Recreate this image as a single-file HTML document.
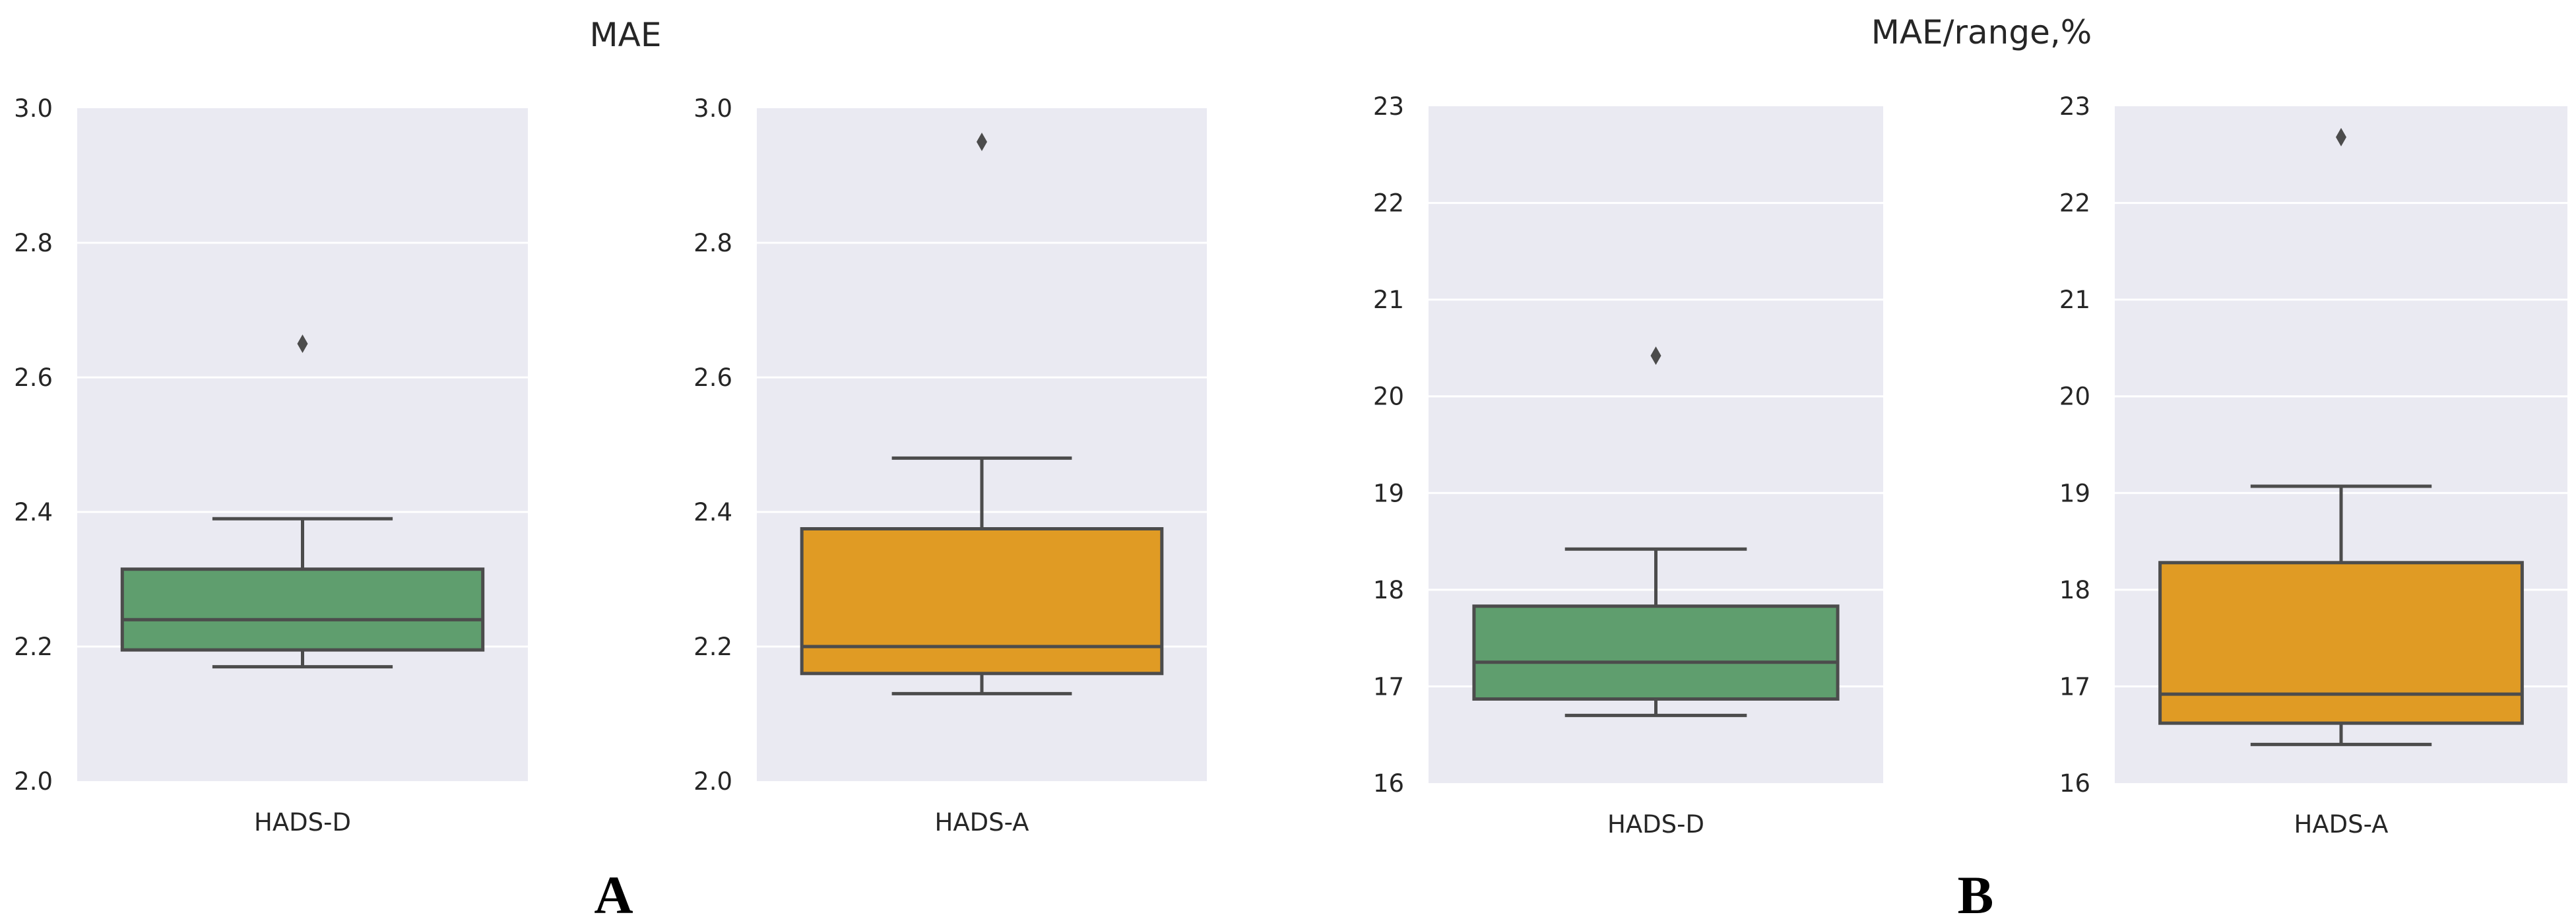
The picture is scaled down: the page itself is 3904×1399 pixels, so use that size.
<!DOCTYPE html>
<html><head><meta charset="utf-8"><style>
html,body{margin:0;padding:0;background:#fff;}
svg{display:block;font-family:"DejaVu Sans","Liberation Sans",sans-serif;}
</style></head><body>
<svg id="chart" width="3904" height="1399" viewBox="0 0 3904 1399" xmlns="http://www.w3.org/2000/svg">
<text x="948" y="70" font-size="50" fill="#262626" text-anchor="middle">MAE</text>
<text x="3003" y="66" font-size="50" fill="#262626" text-anchor="middle">MAE/range,%</text>
<text x="930" y="1384" font-size="82" font-weight="bold" font-family="Liberation Serif, serif" fill="#000" text-anchor="middle">A</text>
<text x="2994" y="1384" font-size="82" font-weight="bold" font-family="Liberation Serif, serif" fill="#000" text-anchor="middle">B</text>
</svg>
<script>
const categories = ["HADS-D", "HADS-A", "HADS-D", "HADS-A"];
const whiskerLow = [2.17, 2.13, 16.70, 16.40];
const q1Values = [2.195, 2.16, 16.87, 16.62];
const medianValues = [2.24, 2.20, 17.25, 16.92];
const q3Values = [2.315, 2.375, 17.83, 18.28];
const whiskerHigh = [2.39, 2.48, 18.42, 19.07];
const outlierValues = [2.65, 2.95, 20.42, 22.68];
const tickLabelsMAE = ["2.0", "2.2", "2.4", "2.6", "2.8", "3.0"];
const tickLabelsPct = ["16", "17", "18", "19", "20", "21", "22", "23"];

const svg = document.getElementById('chart');
const NS = 'http://www.w3.org/2000/svg';
const panels = [
  {x0:117, x1:800, y0:164, y1:1184, ticks:tickLabelsMAE, color:'#5f9e6e'},
  {x0:1147, x1:1829, y0:164, y1:1184, ticks:tickLabelsMAE, color:'#e09b24'},
  {x0:2165, x1:2854, y0:161, y1:1187, ticks:tickLabelsPct, color:'#5f9e6e'},
  {x0:3205, x1:3891, y0:161, y1:1187, ticks:tickLabelsPct, color:'#e09b24'}
];
function mk(tag, attrs){const e=document.createElementNS(NS,tag);for(const k in attrs)e.setAttribute(k,attrs[k]);svg.appendChild(e);return e;}
const LC='#4c4c4c', LW=5;
panels.forEach((p,i)=>{
  const vals=p.ticks.map(Number);
  const lo=vals[0], hi=vals[vals.length-1];
  const y=v=>p.y1-(v-lo)/(hi-lo)*(p.y1-p.y0);
  const bg=mk('rect',{x:p.x0,y:p.y0,width:p.x1-p.x0,height:p.y1-p.y0,fill:'#eaeaf2'});
  
  
  vals.forEach((v,j)=>{
    if(j>0&&j<vals.length-1){
      const g=mk('line',{x1:p.x0,x2:p.x1,y1:y(v),y2:y(v),stroke:'#fff','stroke-width':3});
      
      
    }
    const t=mk('text',{x:p.x0-37,y:y(v)+13,'font-size':37,fill:'#262626','text-anchor':'end'});
    t.textContent=p.ticks[j];
    
    
  });
  const w=p.x1-p.x0, cx=p.x0+w/2;
  const bx0=p.x0+w*0.1, bx1=p.x0+w*0.9, cx0=p.x0+w*0.3, cx1=p.x0+w*0.7;
  const wl=mk('line',{x1:cx,x2:cx,y1:y(whiskerLow[i]),y2:y(q1Values[i]),stroke:LC,'stroke-width':LW});
  
  
  const wh=mk('line',{x1:cx,x2:cx,y1:y(whiskerHigh[i]),y2:y(q3Values[i]),stroke:LC,'stroke-width':LW});
  
  
  const cl=mk('line',{x1:cx0,x2:cx1,y1:y(whiskerLow[i]),y2:y(whiskerLow[i]),stroke:LC,'stroke-width':LW});
  
  
  const ch=mk('line',{x1:cx0,x2:cx1,y1:y(whiskerHigh[i]),y2:y(whiskerHigh[i]),stroke:LC,'stroke-width':LW});
  
  
  const box=mk('rect',{x:bx0,y:y(q3Values[i]),width:bx1-bx0,height:y(q1Values[i])-y(q3Values[i]),fill:p.color,stroke:LC,'stroke-width':LW});
  
  
  const md=mk('line',{x1:bx0,x2:bx1,y1:y(medianValues[i]),y2:y(medianValues[i]),stroke:LC,'stroke-width':LW});
  
  
  const oy=y(outlierValues[i]);
  const od=mk('polygon',{points:`${cx},${oy-14} ${cx+8},${oy} ${cx},${oy+14} ${cx-8},${oy}`,fill:LC});
  
  
  const xl=mk('text',{x:cx,y:p.y1+75,'font-size':37,fill:'#262626','text-anchor':'middle'});
  xl.textContent=categories[i];
  
  
});
</script>
</body></html>
